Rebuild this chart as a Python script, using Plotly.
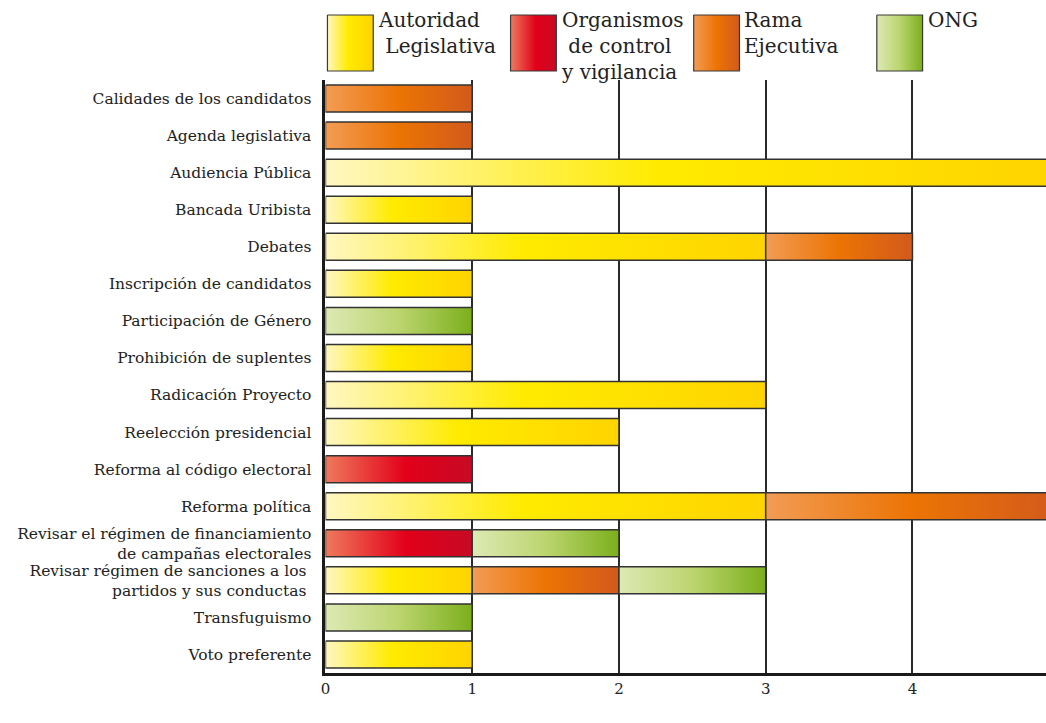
import plotly.graph_objects as go

# categories, top to bottom
temas = [
    "Calidades de los candidatos",
    "Agenda legislativa",
    "Audiencia Pública",
    "Bancada Uribista",
    "Debates",
    "Inscripción de candidatos",
    "Participación de Género",
    "Prohibición de suplentes",
    "Radicación Proyecto",
    "Reelección presidencial",
    "Reforma al código electoral",
    "Reforma política",
    "Revisar el régimen de financiamiento<br>de campañas electorales",
    "Revisar régimen de sanciones a los <br>partidos y sus conductas ",
    "Transfuguismo",
    "Voto preferente",
]

# series values (one per tema)
legislativa = [0, 0, 5, 1, 3, 1, 0, 1, 3, 2, 0, 3, 0, 1, 0, 1]
organismos  = [0, 0, 0, 0, 0, 0, 0, 0, 0, 0, 1, 0, 1, 0, 0, 0]
ejecutiva   = [1, 1, 0, 0, 1, 0, 0, 0, 0, 0, 0, 2, 0, 1, 0, 0]
ong         = [0, 0, 0, 0, 0, 0, 1, 0, 0, 0, 0, 0, 1, 1, 1, 0]

x_ticks = [0, 1, 2, 3, 4]

series = [
    ("Autoridad<br>\u00a0Legislativa", legislativa,
     [[0, "#FFF7C2"], [0.45, "#FFEB00"], [1, "#FFD400"]]),
    ("Organismos<br>\u00a0de control<br>y vigilancia", organismos,
     [[0, "#EE7A5C"], [0.55, "#E2001A"], [1, "#C70A24"]]),
    ("Rama<br>Ejecutiva", ejecutiva,
     [[0, "#F29C55"], [0.5, "#EC7404"], [1, "#D25A1C"]]),
    ("ONG", ong,
     [[0, "#DDE9B4"], [0.5, "#BCD56F"], [1, "#7BAF1C"]]),
]

FONT = "DejaVu Serif"
W, H = 1046, 723
half = 0.365  # half bar thickness in row units

fig = go.Figure()

# stacked horizontal bars drawn as gradient-filled rectangles
base = [0] * len(temas)
for name, vals, cs in series:
    for i, v in enumerate(vals):
        if v == 0:
            continue
        x0, x1 = base[i], base[i] + v
        fig.add_trace(go.Scatter(
            x=[x0, x1, x1, x0, x0],
            y=[i - half, i - half, i + half, i + half, i - half],
            mode="lines", fill="toself",
            fillgradient=dict(type="horizontal", colorscale=cs),
            line=dict(color="#333333", width=1.5),
            hoverinfo="skip", showlegend=False,
            xaxis="x", yaxis="y"))
        base[i] = x1

# legend swatches on a full-page overlay axis (pixel units)
legend_left = [324, 508, 692, 876]
for (name, vals, cs), lx in zip(series, legend_left):
    fig.add_trace(go.Scatter(
        x=[lx, lx + 46, lx + 46, lx, lx],
        y=[15, 15, 71, 71, 15],
        mode="lines", fill="toself",
        fillgradient=dict(type="horizontal", colorscale=cs),
        line=dict(color="#3a3a3a", width=1.2),
        hoverinfo="skip", showlegend=False,
        xaxis="x2", yaxis="y2"))
    fig.add_annotation(
        x=lx + 49, y=6, xref="x2", yref="y2",
        text=name, showarrow=False, align="left",
        xanchor="left", yanchor="top",
        font=dict(family=FONT, size=20, color="#222222"))

fig.update_layout(
    width=W, height=H,
    margin=dict(l=0, r=0, t=0, b=0),
    paper_bgcolor="white",
    plot_bgcolor="rgba(0,0,0,0)",
    showlegend=False,
    xaxis=dict(
        domain=[322 / W, 1], anchor="y",
        range=[0, 4.91],
        tickvals=x_ticks, ticktext=[str(t) for t in x_ticks],
        showgrid=True, gridcolor="#2a2a2a", gridwidth=2,
        zeroline=False, showline=True, linecolor="#1a1a1a", linewidth=3,
        ticks="", ticklabelstandoff=0,
        tickfont=dict(family=FONT, size=15, color="#222222"),
        fixedrange=True),
    yaxis=dict(
        domain=[(H - 673) / H, (H - 80) / H], anchor="x",
        range=[15.5, -0.5],
        tickvals=list(range(len(temas))), ticktext=temas,
        showgrid=False, zeroline=False,
        showline=True, linecolor="#1a1a1a", linewidth=3,
        ticks="", ticklabelstandoff=8,
        tickfont=dict(family=FONT, size=15.5, color="#222222"),
        fixedrange=True),
    xaxis2=dict(domain=[0, 1], anchor="y2", range=[0, W], visible=False,
                fixedrange=True),
    yaxis2=dict(domain=[0, 1], anchor="x2", range=[H, 0], visible=False,
                fixedrange=True),
)

fig.write_html("out.html",
               config={"displayModeBar": False},
               post_script="document.body.style.margin='0';"
                           "document.body.style.overflow='hidden';")
